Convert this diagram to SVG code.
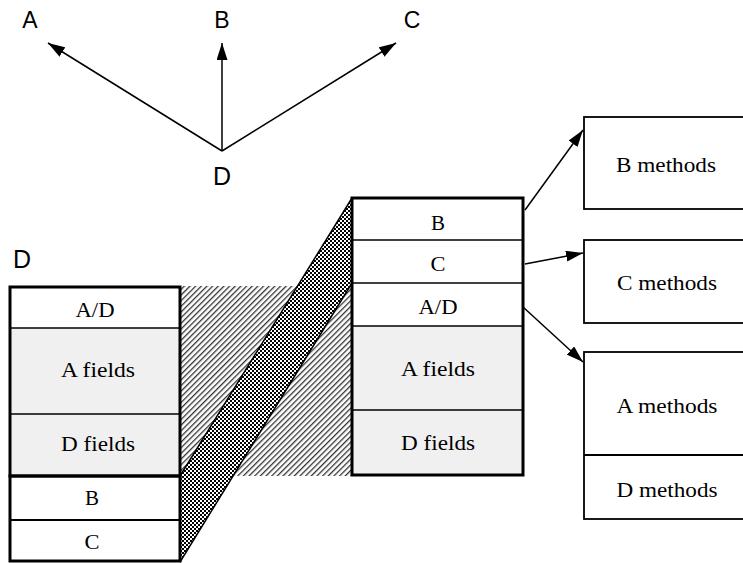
<svg xmlns="http://www.w3.org/2000/svg" width="743" height="563" viewBox="0 0 743 563">
<style>
.sans{font-family:"Liberation Sans",Arial,sans-serif;fill:#000;text-anchor:middle}
.serif{font-family:"Liberation Serif","Times New Roman",serif;font-size:21.5px;fill:#000;text-anchor:middle}
.thick{fill:none;stroke:#000;stroke-width:3}
.thin{stroke:#000;stroke-width:1.5}
.box{fill:#fff;stroke:#000;stroke-width:1.8}
.gray{fill:#f0f0f0}
.white{fill:#fff}
.conn{stroke:#000;stroke-width:1.5;fill:none;marker-end:url(#arr)}
</style>
<defs>
<marker id="arr" markerUnits="userSpaceOnUse" markerWidth="18" markerHeight="11" refX="17" refY="5.5" orient="auto">
<path d="M0,0 L17,5.5 L0,11 z" fill="#000"/>
</marker>
<pattern id="hatch" patternUnits="userSpaceOnUse" width="4" height="4" patternTransform="rotate(45)">
<rect width="4" height="4" fill="#fff"/>
<rect x="0" y="0" width="1.3" height="4" fill="#333"/>
</pattern>
<pattern id="check" patternUnits="userSpaceOnUse" width="4" height="4">
<rect width="4" height="4" fill="#000"/>
<rect x="0" y="0" width="2" height="2" fill="#fff"/>
<rect x="2" y="2" width="2" height="2" fill="#fff"/>
</pattern>
</defs>

<g id="hierarchy-labels">
<text class="sans" x="30" y="28" font-size="23">A</text>
<text class="sans" x="222" y="28" font-size="23">B</text>
<text class="sans" x="412" y="28" font-size="23">C</text>
<text class="sans" x="222" y="185" font-size="25">D</text>
</g>

<g id="mapping">
<rect x="180" y="286" width="172" height="190" fill="url(#hatch)"/>
<polygon points="180,476 352,198 352,283 180,562" fill="url(#check)"/>
<line x1="180" y1="476" x2="352" y2="198" class="thin"/>
<line x1="180" y1="562" x2="352" y2="283" class="thin"/>
</g>

<g id="left-stack">
<text class="sans" x="22" y="268" font-size="25">D</text>
<rect x="10" y="287" width="170" height="41" class="white"/>
<rect x="10" y="328" width="170" height="148" class="gray"/>
<rect x="10" y="476" width="170" height="85" class="white"/>
<line x1="10" y1="328" x2="180" y2="328" class="thin"/>
<line x1="10" y1="414" x2="180" y2="414" class="thin"/>
<line x1="10" y1="520" x2="180" y2="520" stroke="#000" stroke-width="2"/>
<rect x="10" y="287" width="170" height="189" class="thick"/>
<rect x="10" y="476" width="170" height="85" class="thick"/>
<text class="serif" x="95" y="317" textLength="39" lengthAdjust="spacingAndGlyphs">A/D</text>
<text class="serif" x="98" y="377" textLength="74" lengthAdjust="spacingAndGlyphs">A fields</text>
<text class="serif" x="98" y="451" textLength="74" lengthAdjust="spacingAndGlyphs">D fields</text>
<text class="serif" x="92" y="505" textLength="14" lengthAdjust="spacingAndGlyphs">B</text>
<text class="serif" x="92" y="549" textLength="15" lengthAdjust="spacingAndGlyphs">C</text>
</g>

<g id="right-stack">
<rect x="352" y="198" width="171" height="128" class="white"/>
<rect x="352" y="326" width="171" height="149" class="gray"/>
<line x1="352" y1="240" x2="523" y2="240" class="thin"/>
<line x1="352" y1="283" x2="523" y2="283" class="thin"/>
<line x1="352" y1="326" x2="523" y2="326" class="thin"/>
<line x1="352" y1="410" x2="523" y2="410" class="thin"/>
<rect x="352" y="198" width="171" height="277" class="thick"/>
<text class="serif" x="438" y="230" textLength="14" lengthAdjust="spacingAndGlyphs">B</text>
<text class="serif" x="438" y="271" textLength="15" lengthAdjust="spacingAndGlyphs">C</text>
<text class="serif" x="438" y="314" textLength="39" lengthAdjust="spacingAndGlyphs">A/D</text>
<text class="serif" x="438" y="376" textLength="74" lengthAdjust="spacingAndGlyphs">A fields</text>
<text class="serif" x="438" y="450" textLength="74" lengthAdjust="spacingAndGlyphs">D fields</text>
</g>

<g id="b-methods">
<rect x="584" y="117" width="164" height="92" class="box"/>
<text class="serif" x="666" y="172" textLength="100" lengthAdjust="spacingAndGlyphs">B methods</text>
</g>
<g id="c-methods">
<rect x="584" y="240" width="164" height="83" class="box"/>
<text class="serif" x="667" y="290" textLength="100" lengthAdjust="spacingAndGlyphs">C methods</text>
</g>
<g id="ad-methods">
<rect x="584" y="352" width="164" height="167" class="box"/>
<line x1="584" y1="455" x2="748" y2="455" stroke="#000" stroke-width="1.8"/>
<text class="serif" x="667" y="413" textLength="101" lengthAdjust="spacingAndGlyphs">A methods</text>
<text class="serif" x="667" y="497" textLength="101" lengthAdjust="spacingAndGlyphs">D methods</text>
</g>

<g id="connectors">
<line x1="222" y1="151" x2="48" y2="43" class="conn"/>
<line x1="222" y1="151" x2="222" y2="43" class="conn"/>
<line x1="222" y1="151" x2="396" y2="43" class="conn"/>
<line x1="525" y1="210" x2="583" y2="130" class="conn"/>
<line x1="525" y1="264" x2="583" y2="253" class="conn"/>
<line x1="523" y1="307" x2="583" y2="362" class="conn"/>
</g>
</svg>
